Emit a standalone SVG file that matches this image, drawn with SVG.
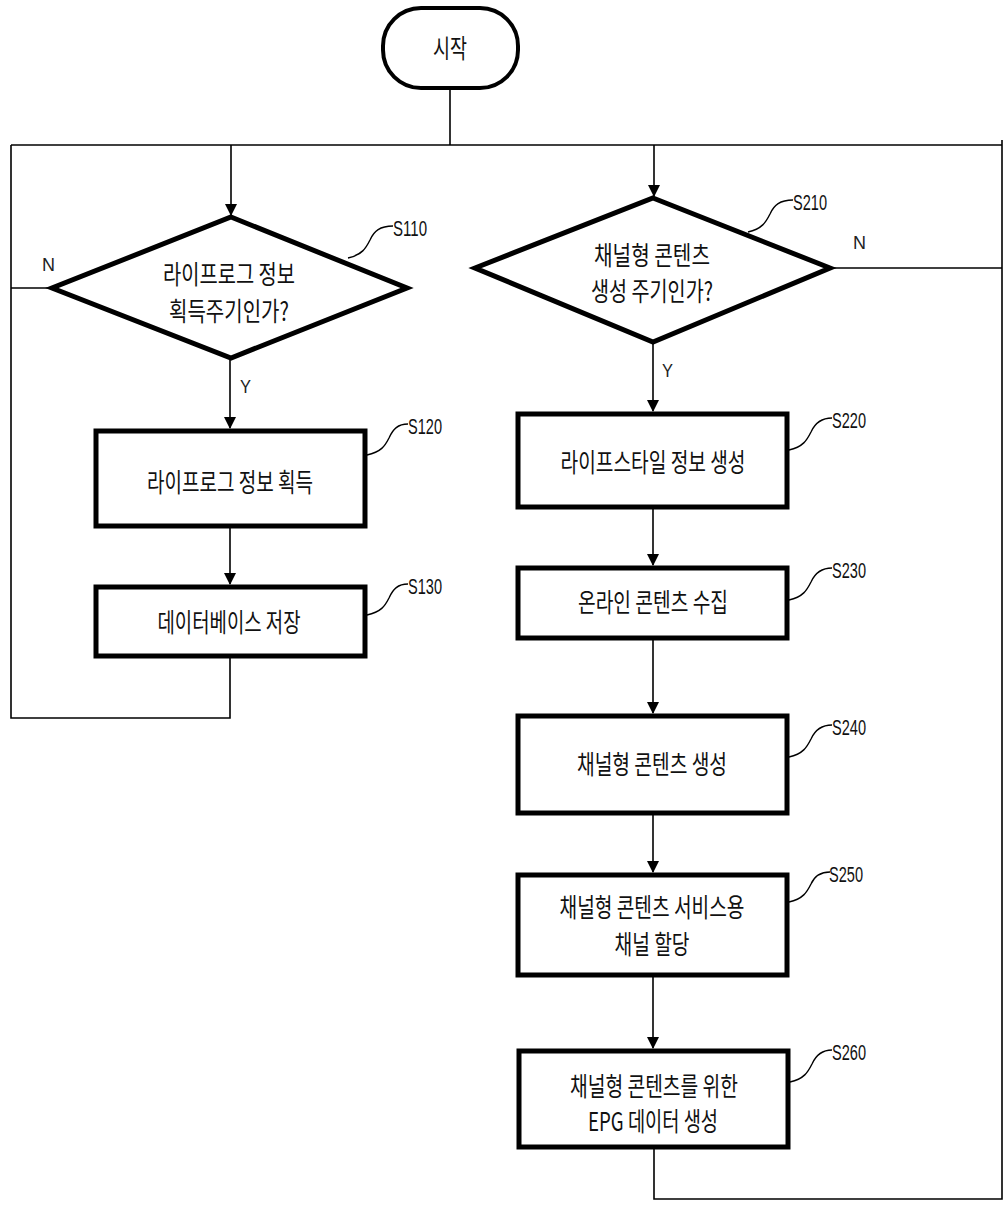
<svg xmlns="http://www.w3.org/2000/svg" width="1004" height="1205" viewBox="0 0 1004 1205">
<style>
.box{fill:#fff;stroke:#000;stroke-width:5}
.term{fill:#fff;stroke:#000;stroke-width:4}
.t{font-family:"Noto Sans CJK KR","Noto Sans",sans-serif;font-size:26px;fill:#111;text-anchor:middle}
.lbl{font-family:"Liberation Sans","Noto Sans",sans-serif;font-size:22px;fill:#111}
.yn{font-family:"Liberation Sans","Noto Sans",sans-serif;font-size:19px;fill:#222}
.ln{fill:none;stroke:#000;stroke-width:1.6}
.ld{fill:none;stroke:#000;stroke-width:1.4}
</style>
<defs>
<marker id="ah" markerWidth="12" markerHeight="14" refX="11" refY="6" orient="auto" markerUnits="userSpaceOnUse">
<path d="M0,0 L12,6 L0,12 z" fill="#000"/>
</marker>
</defs>
<rect width="1004" height="1205" fill="#fff"/>

<g id="connectors">
<path class="ln" d="M450,88 V145"/>
<path class="ln" d="M11,145 H1002"/>
<path class="ln" d="M231,145 V215" marker-end="url(#ah)"/>
<path class="ln" d="M654,145 V196" marker-end="url(#ah)"/>
<path class="ln" d="M11,145 V718 H230 V657"/>
<path class="ln" d="M52,288 H11"/>
<path class="ln" d="M230,358 V428" marker-end="url(#ah)"/>
<path class="ln" d="M230,527 V584" marker-end="url(#ah)"/>
<path class="ln" d="M1002,140 V1199 H654 V1148"/>
<path class="ln" d="M830,268 H1002"/>
<path class="ln" d="M653,342 V411" marker-end="url(#ah)"/>
<path class="ln" d="M653,508 V565" marker-end="url(#ah)"/>
<path class="ln" d="M653,639 V713" marker-end="url(#ah)"/>
<path class="ln" d="M653,814 V872" marker-end="url(#ah)"/>
<path class="ln" d="M653,976 V1048" marker-end="url(#ah)"/>
<text class="yn" x="42" y="271" textLength="13" lengthAdjust="spacingAndGlyphs">N</text>
<text class="yn" x="240" y="393" textLength="11" lengthAdjust="spacingAndGlyphs">Y</text>
<text class="yn" x="853" y="249" textLength="13" lengthAdjust="spacingAndGlyphs">N</text>
<text class="yn" x="662" y="377" textLength="11" lengthAdjust="spacingAndGlyphs">Y</text>
</g>

<g id="start">
<rect class="term" x="383" y="8" width="135" height="80" rx="38"/>
<text class="t" x="450" y="58" textLength="34" lengthAdjust="spacingAndGlyphs">시작</text>
</g>

<g id="S110">
<polygon class="box" points="231,217 407,288 231,358 52,288"/>
<text class="t" x="229" y="284" textLength="132" lengthAdjust="spacingAndGlyphs">라이프로그 정보</text>
<text class="t" x="229" y="321" textLength="120" lengthAdjust="spacingAndGlyphs">획득주기인가?</text>
<path class="ld" d="M348,258 C362,255 366,248 370,240 C374,231 380,226 393,226"/>
<text class="lbl" x="393" y="236" textLength="34" lengthAdjust="spacingAndGlyphs">S110</text>
</g>

<g id="S120">
<rect class="box" x="96" y="431" width="269" height="95"/>
<text class="t" x="230" y="492" textLength="166" lengthAdjust="spacingAndGlyphs">라이프로그 정보 획득</text>
<path class="ld" d="M367,455 C381,452 385,446 389,438 C393,429 398,424 408,424"/>
<text class="lbl" x="408" y="434" textLength="34" lengthAdjust="spacingAndGlyphs">S120</text>
</g>

<g id="S130">
<rect class="box" x="96" y="587" width="269" height="69"/>
<text class="t" x="229" y="632" textLength="143" lengthAdjust="spacingAndGlyphs">데이터베이스 저장</text>
<path class="ld" d="M367,615 C381,612 385,606 389,598 C393,589 398,584 408,584"/>
<text class="lbl" x="408" y="594" textLength="34" lengthAdjust="spacingAndGlyphs">S130</text>
</g>

<g id="S210">
<polygon class="box" points="653,198 830,268 653,342 475,268"/>
<text class="t" x="652" y="265" textLength="116" lengthAdjust="spacingAndGlyphs">채널형 콘텐츠</text>
<text class="t" x="652" y="301" textLength="122" lengthAdjust="spacingAndGlyphs">생성 주기인가?</text>
<path class="ld" d="M748,232 C762,229 766,222 770,214 C774,205 780,200 793,200"/>
<text class="lbl" x="793" y="210" textLength="34" lengthAdjust="spacingAndGlyphs">S210</text>
</g>

<g id="S220">
<rect class="box" x="518" y="414" width="269" height="93"/>
<text class="t" x="653" y="472" textLength="185" lengthAdjust="spacingAndGlyphs">라이프스타일 정보 생성</text>
<path class="ld" d="M789,450 C803,447 807,440 811,432 C815,423 821,418 832,418"/>
<text class="lbl" x="832" y="428" textLength="34" lengthAdjust="spacingAndGlyphs">S220</text>
</g>

<g id="S230">
<rect class="box" x="518" y="568" width="269" height="70"/>
<text class="t" x="653" y="612" textLength="150" lengthAdjust="spacingAndGlyphs">온라인 콘텐츠 수집</text>
<path class="ld" d="M789,600 C803,597 807,590 811,582 C815,573 821,568 832,568"/>
<text class="lbl" x="832" y="578" textLength="34" lengthAdjust="spacingAndGlyphs">S230</text>
</g>

<g id="S240">
<rect class="box" x="518" y="716" width="269" height="97"/>
<text class="t" x="652" y="774" textLength="150" lengthAdjust="spacingAndGlyphs">채널형 콘텐츠 생성</text>
<path class="ld" d="M789,757 C803,754 807,747 811,739 C815,730 821,725 832,725"/>
<text class="lbl" x="832" y="735" textLength="34" lengthAdjust="spacingAndGlyphs">S240</text>
</g>

<g id="S250">
<rect class="box" x="518" y="875" width="269" height="100"/>
<text class="t" x="652" y="917" textLength="185" lengthAdjust="spacingAndGlyphs">채널형 콘텐츠 서비스용</text>
<text class="t" x="652" y="954" textLength="75" lengthAdjust="spacingAndGlyphs">채널 할당</text>
<path class="ld" d="M789,902 C803,899 807,892 811,884 C815,875 821,872 830,872"/>
<text class="lbl" x="829" y="882" textLength="34" lengthAdjust="spacingAndGlyphs">S250</text>
</g>

<g id="S260">
<rect class="box" x="519" y="1051" width="269" height="96"/>
<text class="t" x="654" y="1096" textLength="168" lengthAdjust="spacingAndGlyphs">채널형 콘텐츠를 위한</text>
<text class="t" x="653" y="1131" textLength="130" lengthAdjust="spacingAndGlyphs">EPG 데이터 생성</text>
<path class="ld" d="M790,1082 C804,1079 808,1072 812,1064 C816,1055 822,1050 832,1050"/>
<text class="lbl" x="832" y="1060" textLength="34" lengthAdjust="spacingAndGlyphs">S260</text>
</g>
</svg>
